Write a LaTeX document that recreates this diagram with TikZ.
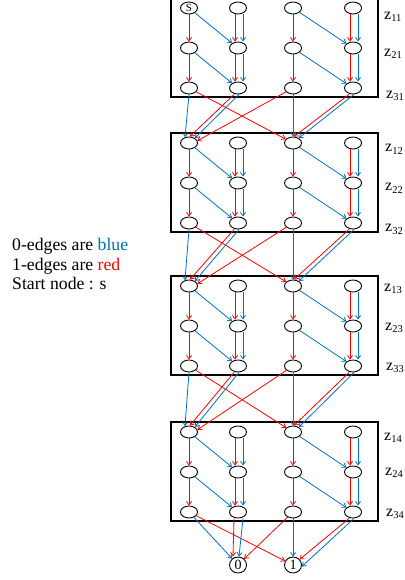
\documentclass[tikz,border=0pt]{standalone}
\usepackage{fontspec}
\setmainfont{Liberation Serif}
\usetikzlibrary{arrows.meta,shapes.geometric}
\definecolor{eblue}{RGB}{0,112,192}
\definecolor{ered}{RGB}{255,0,0}
\newcommand{\zl}[1]{z\raisebox{-2.5pt}{\fontsize{10.5}{10.5}\selectfont #1}}
\begin{document}
\begin{tikzpicture}[x=1pt,y=-1pt,
  vnode/.style={ellipse,draw,line width=0.9pt,minimum width=17pt,minimum height=12pt,inner sep=0pt},
  tnode/.style={ellipse,draw,line width=0.9pt,minimum width=17pt,minimum height=16pt,inner sep=0pt,font=\fontsize{14}{14}\selectfont},
  box/.style={draw,line width=1.1pt},
  zero/.style={draw=eblue,line width=0.8pt,-{Straight Barb[length=3.5pt,width=5pt]}},
  one/.style={draw=ered,line width=0.8pt,-{Straight Barb[length=3.5pt,width=5pt]}},
  zlab/.style={anchor=base west,inner sep=0pt,font=\fontsize{16}{16}\selectfont},
  legend/.style={anchor=base west,inner sep=0pt,font=\fontsize{17.7}{20}\selectfont}]
\useasboundingbox (0,0) rectangle (404,580);

% boxes
\foreach \t in {-2,133,276,422}
  \draw[box] (171,\t) rectangle (378,\t+99);

% nodes
\foreach \k/\y in {1/8,2/143,3/286,4/432}
  \foreach \r in {1,2,3}
    \foreach \c/\x in {1/189,2/238,3/293,4/353}
      \node[vnode] (n\k\r\c) at (\x,{\y+40*(\r-1)}) {};
\node[inner sep=0pt,font=\fontsize{11}{11}\selectfont] (slabel) at (n111.center) {S};

\node[tnode] (t0) at (238,565) {0};
\node[tnode] (t1) at (293,565) {1};

% edges inside boxes
\foreach \k in {1,2,3,4}
  \foreach \r/\s in {1/2,2/3} {
    \draw[one] (n\k\r1) -- (n\k\s1);
    \draw[zero] (n\k\r1) -- (n\k\s2);
    \draw[one] ([xshift=-3pt]n\k\r2.south) -- ([xshift=-3pt]n\k\s2.north);
    \draw[zero] ([xshift=5pt]n\k\r2.south) -- ([xshift=5pt]n\k\s2.north);
    \draw[one] (n\k\r3) -- (n\k\s3);
    \draw[zero] (n\k\r3) -- (n\k\s4);
    \draw[one] ([xshift=-3pt]n\k\r4.south) -- ([xshift=-3pt]n\k\s4.north);
    \draw[zero] ([xshift=5pt]n\k\r4.south) -- ([xshift=5pt]n\k\s4.north);
  }

% edges between boxes
\foreach \k/\m in {1/2,2/3,3/4} {
  \draw[zero] (n\k31.south) -- (n\m11.125);
  \draw[one] (n\k31) -- (n\m13);
  \draw[one] ([xshift=-4pt]n\k32.south) -- ([xshift=1pt]n\m11.north);
  \draw[zero] ([xshift=1pt]n\k32.south) -- (n\m11.40);
  \draw[one] (n\k33) -- (n\m11.15);
  \draw[zero] (n\k33) -- (n\m13);
  \draw[one] ([xshift=-4pt]n\k34.south) -- ([xshift=1pt]n\m13.north);
  \draw[zero] ([xshift=1pt]n\k34.south) -- (n\m13.40);
}

% edges to terminals
\draw[zero] (n431) -- (t0);
\draw[one] (n431) -- (t1);
\draw[one] ([xshift=-4pt]n432.south) -- ([xshift=-5pt]t0.north);
\draw[zero] ([xshift=5pt]n432.south) -- ([xshift=1pt]t0.north);
\draw[one] (n433) -- (t0.45);
\draw[zero] (n433) -- (t1);
\draw[one] ([xshift=-4pt]n434.south) -- (t1.40);
\draw[zero] ([xshift=1pt]n434.south) -- (t1.-10);

% level labels
\node[zlab] (z11) at (384,19.5) {\zl{11}};
\node[zlab] (z21) at (384,56.5) {\zl{21}};
\node[zlab] (z31) at (386,98.5) {\zl{31}};
\node[zlab] (z12) at (385,152) {\zl{12}};
\node[zlab] (z22) at (385,190.5) {\zl{22}};
\node[zlab] (z32) at (385,231.5) {\zl{32}};
\node[zlab] (z13) at (384,291) {\zl{13}};
\node[zlab] (z23) at (385,330) {\zl{23}};
\node[zlab] (z33) at (386,370) {\zl{33}};
\node[zlab] (z14) at (384,440) {\zl{14}};
\node[zlab] (z24) at (385,475) {\zl{24}};
\node[zlab] (z34) at (386,516) {\zl{34}};

% legend
\node[legend] (l1) at (12,250) {0-edges are \textcolor{eblue}{blue}};
\node[legend] (l2) at (12,270) {1-edges are \textcolor{ered}{red}};
\node[legend] (l3) at (12,289) {Start node : s};
\end{tikzpicture}
\end{document}
